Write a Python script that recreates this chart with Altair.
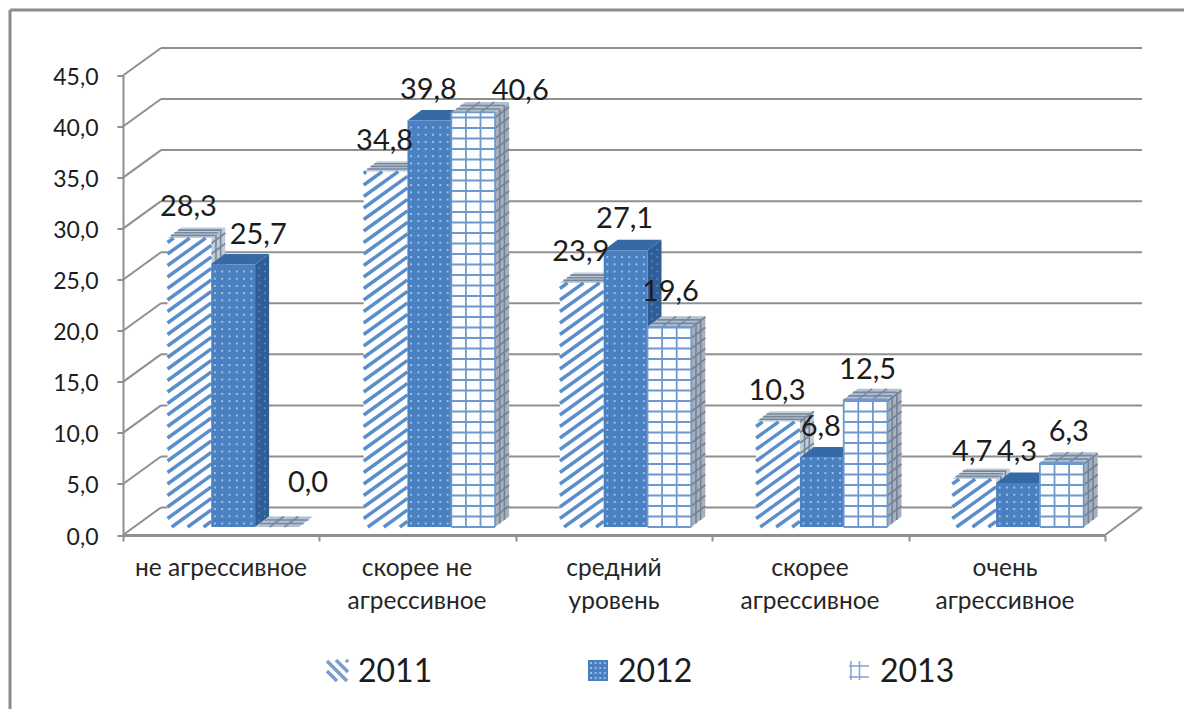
import altair as alt
import pandas as pd

# Survey shares per answer category and year
line1 = ["не агрессивное", "скорее не", "средний", "скорее", "очень"]
line2 = ["", "агрессивное", "уровень", "агрессивное", "агрессивное"]
v2011 = [28.3, 34.8, 23.9, 10.3, 4.7]
v2012 = [25.7, 39.8, 27.1, 6.8, 4.3]
v2013 = [0.0, 40.6, 19.6, 12.5, 6.3]
years = ["2011", "2012", "2013"]
ticks = [0, 5, 10, 15, 20, 25, 30, 35, 40, 45]

# Hand-placed value labels: (year index, category index) -> pixel nudge
nudges = {(1, 0): (25, 1), (2, 0): (31, -13), (2, 1): (47, 10), (2, 2): (1, -4),
          (2, 3): (2, 2), (2, 4): (7, 0), (0, 4): (-2, 4)}

FONT = "Lato"
GRID = "#8f8f8f"
INK = "#1c1c1c"

# Pixel frame of the plot area
LEFT, BOTTOM, W, H = 123, 535, 982, 459.5
def ux(px):
    return (px - LEFT) / (W / 5)
def uy(py):
    return (BOTTOM - py) / (H / 45)
def py(v):
    return BOTTOM - v * H / 45

xs = alt.Scale(domain=[0, 5], nice=False, zero=False)
ys = alt.Scale(domain=[0, 45], nice=False, zero=False)
x_axis = alt.Axis(values=[0, 1, 2, 3, 4, 5], labels=False, grid=False, tickSize=6, tickWidth=2,
                  tickColor=GRID, domainColor=GRID, domainWidth=3, title=None)
y_axis = alt.Axis(values=ticks, grid=False, tickSize=6, tickWidth=2, tickColor=GRID, domainColor=GRID,
                  domainWidth=2, labelFont=FONT, labelFontSize=23, labelColor=INK, labelPadding=19,
                  labelOffset=2, labelExpr="replace(format(datum.value, '.1f'), '.', ',')", title=None)
X = alt.X("x:Q", scale=xs, axis=x_axis, title=None)
Y = alt.Y("y:Q", scale=ys, axis=y_axis, title=None)

layers = []

def segments(rows, color, width, opacity=1):
    """rows are pixel segments (x1, y1, x2, y2)."""
    if not rows:
        return
    df = pd.DataFrame([{"x": ux(a), "y": uy(b), "x2": ux(c), "y2": uy(d)} for a, b, c, d in rows])
    layers.append(alt.Chart(df).mark_rule(color=color, strokeWidth=width, opacity=opacity).encode(
        X, Y, x2="x2:Q", y2="y2:Q"))

def stripes(xl, xr, yt, yb, slope, period, anchor):
    """Parallel diagonal lines y = c - slope * x clipped to a rectangle."""
    rows = []
    lo = min(yt + slope * xl, yt + slope * xr)
    hi = max(yb + slope * xl, yb + slope * xr)
    c = anchor + slope * xl
    while c > lo:
        c -= period
    while c < hi:
        xa, xb = (c - yb) / slope, (c - yt) / slope
        x1, x2 = max(xl, min(xa, xb)), min(xr, max(xa, xb))
        if x1 < x2:
            rows.append((x1, c - slope * x1, x2, c - slope * x2))
        c += period
    return rows

# Back wall, side wall and floor
wall_dx, wall_dy = 38, 27.5
segments([(LEFT + wall_dx, py(t) - wall_dy, LEFT + W + wall_dx - 1, py(t) - wall_dy) for t in ticks[1:]], GRID, 2)
segments([(LEFT, py(t), LEFT + wall_dx, py(t) - wall_dy) for t in ticks], GRID, 2)
segments([(LEFT + wall_dx, py(0) - wall_dy, LEFT + W + wall_dx - 1, py(0) - wall_dy),
          (LEFT + W, py(0), LEFT + W + wall_dx - 1, py(0) - wall_dy)], GRID, 2)

# Frame around the whole figure
segments([(10, 10, 1184, 10), (10, 10, 10, 709)], "#8a8a8a", 3)

# Bar geometry in pixels
BAR_W, STEP, FIRST = 43.8, 196.2, 167.5
DX, DY, BASE = 14, 10.5, 8
series = [v2011, v2012, v2013]

def bar_box(k, i):
    xl = FIRST + STEP * i + BAR_W * k
    return xl, xl + BAR_W, py(series[k][i]) - BASE, py(0) - BASE

def depth_faces(k, side_fill, top_fill):
    side, top = [], []
    for i in range(5):
        xl, xr, yt, yb = bar_box(k, i)
        for px, up, low in [(xr, yt, yb), (xr + DX, yt - DY, yb - DY)]:
            side.append({"b": i, "x": ux(px), "y": uy(up), "y2": uy(low)})
        for px, up, low in [(xl, yt, yt), (xl + DX, yt - DY, yt), (xr, yt - DY, yt), (xr + DX, yt - DY, yt - DY)]:
            top.append({"b": i, "x": ux(px), "y": uy(up), "y2": uy(low)})
    for rows, fill in [(side, side_fill), (top, top_fill)]:
        layers.append(alt.Chart(pd.DataFrame(rows)).mark_area(color=fill, opacity=1, interpolate="linear").encode(
            X, Y, y2="y2:Q", detail="b:N"))

def front_face(k, fill):
    rows = []
    for i in range(5):
        xl, xr, yt, yb = bar_box(k, i)
        rows.append({"x": ux(xl), "x2": ux(xr), "y": uy(yt), "y2": uy(yb)})
    layers.append(alt.Chart(pd.DataFrame(rows)).mark_rect(color=fill).encode(X, Y, x2="x2:Q", y2="y2:Q"))

def depth_grid(i, k, n_side, n_top):
    """Lines running over the side and top faces of one bar."""
    xl, xr, yt, yb = bar_box(k, i)
    side, top = [], []
    y = yb - 10.5
    while y > yt and n_side:
        side.append((xr, y, xr + DX, y - DY))
        y -= 10.5
    for f in range(1, n_side):
        side.append((xr + DX * f / n_side, yt - DY * f / n_side, xr + DX * f / n_side, yb - DY * f / n_side))
    for f in range(1, n_top):
        top.append((xl + DX * f / n_top, yt - DY * f / n_top, xr + DX * f / n_top, yt - DY * f / n_top))
    return side, top

# 2011: diagonal hatch
depth_faces(0, "#c4ccd6", "#c4ccd6")
rows = []
for i in range(5):
    side, top = depth_grid(i, 0, 3, 4)
    rows += side + top
segments(rows, "#75879e", 1.6)
front_face(0, "#ffffff")
rows = []
for i in range(5):
    xl, xr, yt, yb = bar_box(0, i)
    rows += stripes(xl, xr, yt, yb, 0.72, 11.5, yb + 3)
segments(rows, "#5a8ecb", 3.4)

# 2012: solid blue with a fine dot screen
depth_faces(1, "#2f5e96", "#356aa6")
side_dots = []
for i in range(5):
    xl, xr, yt, yb = bar_box(1, i)
    y = yb - 3.5
    while y > yt + 3:
        for f in (0.3, 0.7):
            side_dots.append({"x": ux(xr + DX * f), "y": uy(y - DY * f)})
        y -= 7.2
layers.append(alt.Chart(pd.DataFrame(side_dots)).mark_square(size=4, color="#5f8abf", opacity=0.8).encode(X, Y))
front_face(1, "#4a7fc0")
dots = []
for i in range(5):
    xl, xr, yt, yb = bar_box(1, i)
    y = yb - 3.5
    while y > yt + 1:
        for j in range(6):
            dots.append({"x": ux(xl + 3.6 + 7.3 * j), "y": uy(y)})
        y -= 7.2
layers.append(alt.Chart(pd.DataFrame(dots)).mark_square(size=4, color="#a9ccf2", opacity=0.85).encode(X, Y))

# 2013: open grid
depth_faces(2, "#a9b0ba", "#b4c0ce")
side_rows, top_rows = [], []
for i in range(5):
    side, top = depth_grid(i, 2, 3, 3)
    side_rows += side
    xl, xr, yt, yb = bar_box(2, i)
    top_rows += top
    for f in range(1, 3):
        top_rows.append((xl + BAR_W * f / 3, yt, xl + BAR_W * f / 3 + DX, yt - DY))
segments(side_rows, "#72839a", 1.6)
segments(top_rows, "#7689a3", 1.6)
front_face(2, "#fbfdff")
rows = []
for i in range(5):
    xl, xr, yt, yb = bar_box(2, i)
    if yb - yt < 1:
        continue
    for f in range(4):
        rows.append((xl + BAR_W * f / 3, yt, xl + BAR_W * f / 3, yb))
    y = yb
    while y >= yt:
        rows.append((xl, y, xr, y))
        y -= 10.5
    rows.append((xl, yt, xr, yt))
segments(rows, "#6f98cc", 1.8)

# Value labels
labels = []
for k in range(3):
    for i in range(5):
        xl, xr, yt, yb = bar_box(k, i)
        nx, ny = nudges.get((k, i), (-1, 0))
        labels.append({"x": ux((xl + xr) / 2 + nx), "y": uy(yt - 31 + ny),
                       "t": f"{series[k][i]:.1f}".replace(".", ",")})
layers.append(alt.Chart(pd.DataFrame(labels)).mark_text(
    font=FONT, fontSize=29, color=INK, align="center", baseline="middle").encode(X, Y, text="t:N"))

# Category labels
cat = []
for i, c in enumerate([221, 417, 614, 810, 1005]):
    cat.append({"x": ux(c), "y": uy(569), "t": line1[i]})
    if line2[i]:
        cat.append({"x": ux(c), "y": uy(602), "t": line2[i]})
layers.append(alt.Chart(pd.DataFrame(cat)).mark_text(
    font=FONT, fontSize=24.5, color="#262626", align="center", baseline="middle").encode(X, Y, text="t:N"))

# Legend: swatches repeat each series' fill
sw_t, sw_b = 660, 681
segments(stripes(327, 348, sw_t, sw_b, -1, 10, sw_t + 1), "#7f9ec6", 3.6)
layers.append(alt.Chart(pd.DataFrame([{"x": ux(588), "x2": ux(608), "y": uy(sw_t), "y2": uy(sw_b)}])).mark_rect(
    color="#4a7fc0").encode(X, Y, x2="x2:Q", y2="y2:Q"))
leg_dots = [{"x": ux(591 + 4.6 * a), "y": uy(sw_t + 3 + 5 * b)} for a in range(4) for b in range(4)]
layers.append(alt.Chart(pd.DataFrame(leg_dots)).mark_square(size=4, color="#b4d2f4").encode(X, Y))
segments([(849, 666, 869, 666), (849, 677, 869, 677), (851, 661, 851, 680), (859.5, 661, 859.5, 680)], "#86a8d2", 1.6)
legend = [{"x": ux(p), "y": uy(672), "t": y} for p, y in zip([358, 618, 880], years)]
layers.append(alt.Chart(pd.DataFrame(legend)).mark_text(
    font=FONT, fontSize=32, color=INK, align="left", baseline="middle").encode(X, Y, text="t:N"))

chart = alt.layer(*layers).properties(
    width=W, height=H,
    padding={"left": LEFT, "top": BOTTOM - H, "right": 1184 - LEFT - W, "bottom": 709 - BOTTOM},
    autosize=alt.AutoSizeParams(type="none"),
    background="white",
).configure_view(stroke=None)

chart.save("out.html", embed_options={"renderer": "svg", "actions": False})
